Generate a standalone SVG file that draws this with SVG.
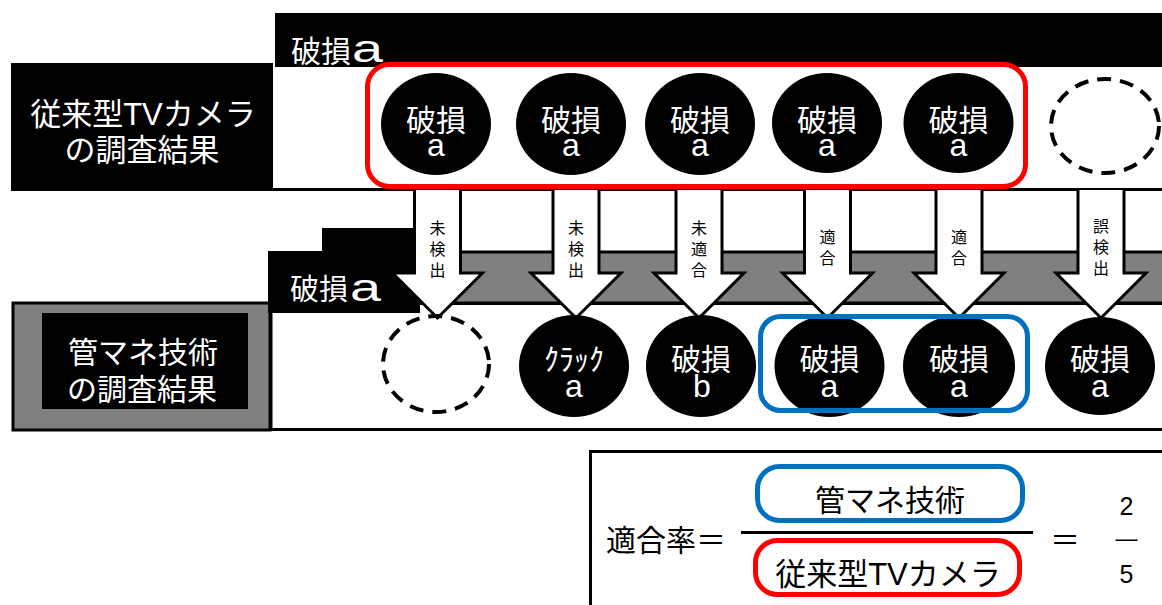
<svg xmlns="http://www.w3.org/2000/svg" width="1162" height="605" viewBox="0 0 1162 605">
<style>
.jp{font-family:"Liberation Sans","Noto Sans CJK JP",sans-serif}
.w{fill:#fff}
.lab{font-size:16px;text-anchor:middle;fill:#000;font-family:"Noto Sans CJK JP",sans-serif}
.dash{fill:none;stroke:#000;stroke-width:4;stroke-dasharray:14 9}
.arrow{fill:#fff;stroke:#000;stroke-width:3;stroke-linejoin:miter}
.ct{text-anchor:middle;fill:#fff;font-family:"Liberation Sans","Noto Sans CJK JP",sans-serif}
.l1{font-size:30px}
.l2{font-size:32px}
</style>
<rect width="1162" height="605" fill="#fff"/>

<g id="band-top">
  <rect x="275" y="13" width="890" height="54" fill="#000"/>
  <text class="jp w" x="291" y="62" font-size="30">破損</text>
  <text x="352" y="62" font-size="38" textLength="31" lengthAdjust="spacingAndGlyphs" font-family="Liberation Sans,sans-serif" fill="#fff">a</text>
</g>
<g id="row-top">
  <rect x="273" y="67" width="892" height="122" fill="#fff"/>
  <line x1="273" y1="189.5" x2="1162" y2="189.5" stroke="#000" stroke-width="3"/>
</g>
<g id="label-tv">
  <rect x="11" y="63" width="262" height="128" fill="#000"/>
  <text class="jp w" font-size="31" text-anchor="middle"><tspan x="143" y="125">従来型TVカメラ</tspan><tspan x="142" y="161">の調査結果</tspan></text>
</g>

<g id="row-bottom">
  <rect x="271" y="303.5" width="900" height="126" fill="#fff" stroke="#000" stroke-width="3"/>
</g>
<g id="band-gray">
  <rect x="398" y="252" width="770" height="51" fill="#808080" stroke="#000" stroke-width="3"/>
</g>
<g id="label-kanmane">
  <rect x="13" y="303" width="257" height="127" fill="#808080" stroke="#000" stroke-width="3"/>
  <rect x="42" y="313" width="206" height="96" fill="#000"/>
  <text class="jp w" font-size="30" text-anchor="middle"><tspan x="143" y="363">管マネ技術</tspan><tspan x="142" y="400">の調査結果</tspan></text>
</g>
<g id="band-bottom">
  <path d="M268,251 H322 V228 H420 V313 H268 Z" fill="#000"/>
  <text class="jp w" x="290" y="300" font-size="29">破損</text>
  <text x="350" y="301" font-size="38" textLength="31" lengthAdjust="spacingAndGlyphs" font-family="Liberation Sans,sans-serif" fill="#fff">a</text>
</g>

<g id="connectors">
  <path class="arrow" d="M414.5,190 V273 H392.5 L437.5,318 L482.5,273 H460.5 V190"/>
  <path class="arrow" d="M553,190 V273 H531 L576,318 L621,273 H599 V190"/>
  <path class="arrow" d="M676,190 V273 H654 L699,318 L744,273 H722 V190"/>
  <path class="arrow" d="M804.5,190 V273 H782.5 L827.5,318 L872.5,273 H850.5 V190"/>
  <path class="arrow" d="M936,190 V273 H914 L959,318 L1004,273 H982 V190"/>
  <path class="arrow" d="M1078,190 V273 H1056 L1101,318 L1146,273 H1124 V190"/>
  <text class="lab"><tspan x="437.5" y="234">未</tspan><tspan x="437.5" y="255">検</tspan><tspan x="437.5" y="276">出</tspan></text>
  <text class="lab"><tspan x="576" y="234">未</tspan><tspan x="576" y="255">検</tspan><tspan x="576" y="276">出</tspan></text>
  <text class="lab"><tspan x="699" y="234">未</tspan><tspan x="699" y="255">適</tspan><tspan x="699" y="276">合</tspan></text>
  <text class="lab"><tspan x="827.5" y="243">適</tspan><tspan x="827.5" y="264">合</tspan></text>
  <text class="lab"><tspan x="959" y="243">適</tspan><tspan x="959" y="264">合</tspan></text>
  <text class="lab"><tspan x="1101" y="232">誤</tspan><tspan x="1101" y="253">検</tspan><tspan x="1101" y="274">出</tspan></text>
</g>

<g id="tv1"><ellipse cx="436" cy="124" rx="55" ry="51" fill="#000"/><text class="ct"><tspan class="l1" x="436" y="131">破損</tspan><tspan class="l2" x="436" y="156">a</tspan></text></g>
<g id="tv2"><ellipse cx="571" cy="124" rx="55" ry="51" fill="#000"/><text class="ct"><tspan class="l1" x="571" y="131">破損</tspan><tspan class="l2" x="571" y="156">a</tspan></text></g>
<g id="tv3"><ellipse cx="700" cy="124" rx="55" ry="51" fill="#000"/><text class="ct"><tspan class="l1" x="700" y="131">破損</tspan><tspan class="l2" x="700" y="156">a</tspan></text></g>
<g id="tv4"><ellipse cx="827" cy="123" rx="55" ry="50" fill="#000"/><text class="ct"><tspan class="l1" x="827" y="131">破損</tspan><tspan class="l2" x="827" y="156">a</tspan></text></g>
<g id="tv5"><ellipse cx="958.5" cy="123" rx="55" ry="50" fill="#000"/><text class="ct"><tspan class="l1" x="958.5" y="131">破損</tspan><tspan class="l2" x="958.5" y="156">a</tspan></text></g>
<g id="tv6"><ellipse class="dash" cx="1105" cy="126" rx="54" ry="47"/></g>
<g id="tv-group"><rect x="367.5" y="64.5" width="658" height="122" rx="22" fill="none" stroke="#f00" stroke-width="5"/></g>

<g id="km1"><ellipse class="dash" cx="436" cy="364" rx="53" ry="48"/></g>
<g id="km2"><ellipse cx="574" cy="366" rx="55" ry="51" fill="#000"/><text class="ct"><tspan class="l1" x="574" y="370">ｸﾗｯｸ</tspan><tspan class="l2" x="574" y="397">a</tspan></text></g>
<g id="km3"><ellipse cx="701" cy="366" rx="55" ry="51" fill="#000"/><text class="ct"><tspan class="l1" x="701" y="370">破損</tspan><tspan class="l2" x="702" y="397">b</tspan></text></g>
<g id="km4"><ellipse cx="829.5" cy="366" rx="55" ry="51" fill="#000"/><text class="ct"><tspan class="l1" x="829.5" y="370">破損</tspan><tspan class="l2" x="829.5" y="397">a</tspan></text></g>
<g id="km5"><ellipse cx="959" cy="366" rx="56" ry="51" fill="#000"/><text class="ct"><tspan class="l1" x="959" y="370">破損</tspan><tspan class="l2" x="959" y="397">a</tspan></text></g>
<g id="km6"><ellipse cx="1100" cy="366" rx="55" ry="49" fill="#000"/><text class="ct"><tspan class="l1" x="1100" y="370">破損</tspan><tspan class="l2" x="1100" y="397">a</tspan></text></g>
<g id="km-group"><rect x="760.5" y="316.5" width="267" height="94" rx="20" fill="none" stroke="#0070C0" stroke-width="5"/></g>

<g id="formula">
  <rect x="590.5" y="451.5" width="600" height="200" fill="#fff" stroke="#000" stroke-width="3"/>
  <text class="jp" x="606" y="551" font-size="30" fill="#000">適合率＝</text>
  <line x1="741" y1="532.5" x2="1033" y2="532.5" stroke="#000" stroke-width="3"/>
  <rect x="757.5" y="466.5" width="265" height="54" rx="22" fill="none" stroke="#0070C0" stroke-width="5"/>
  <text class="jp" x="890" y="511" font-size="30" text-anchor="middle" fill="#000">管マネ技術</text>
  <rect x="755.5" y="540.5" width="264" height="54" rx="22" fill="none" stroke="#f00" stroke-width="5"/>
  <text class="jp" x="888" y="585" font-size="31" text-anchor="middle" fill="#000">従来型TVカメラ</text>
  <text class="jp" x="1065" y="551" font-size="30" text-anchor="middle" fill="#000">＝</text>
  <text font-size="25" text-anchor="middle" font-family="Liberation Sans,sans-serif" fill="#000"><tspan x="1126.5" y="515">2</tspan><tspan x="1126.5" y="546" font-size="22">―</tspan><tspan x="1126.5" y="583">5</tspan></text>
</g>
</svg>
